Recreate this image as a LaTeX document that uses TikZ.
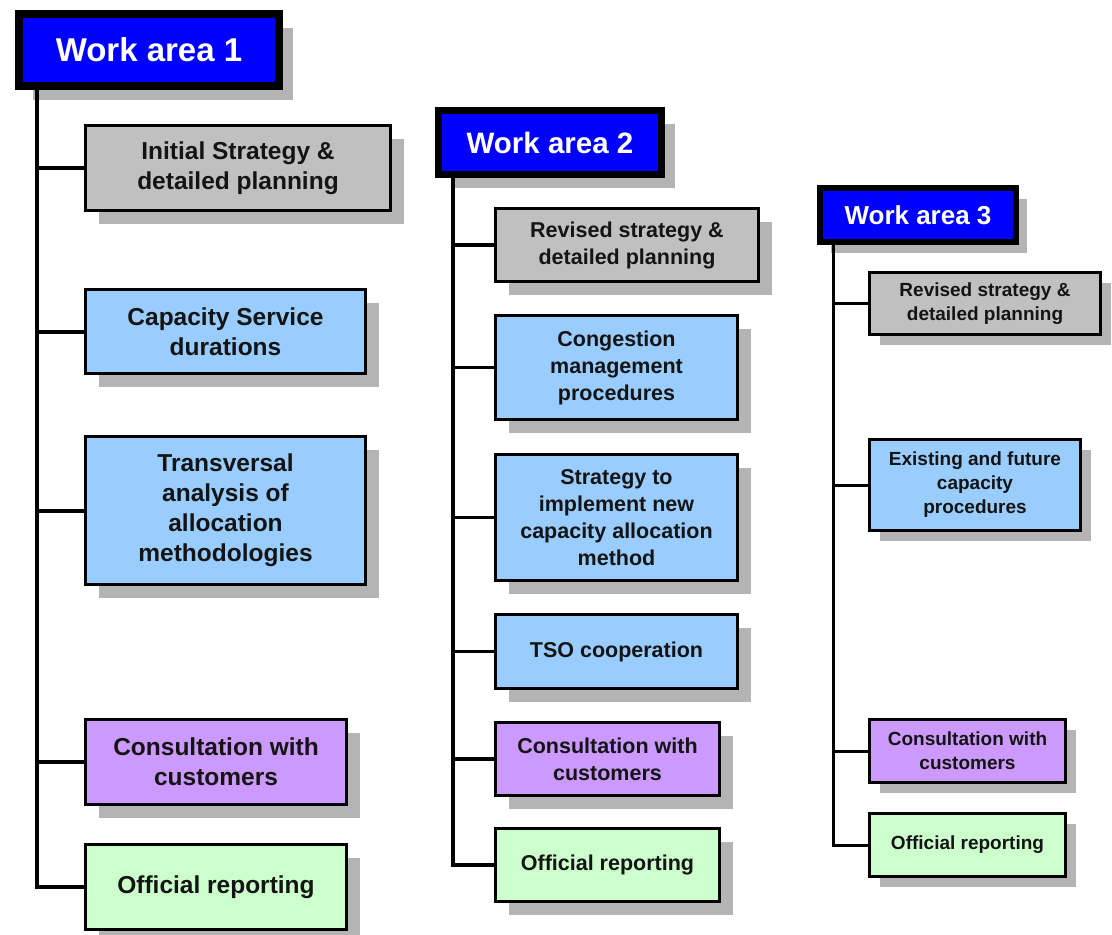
\documentclass[tikz,border=0pt]{standalone}
\usepackage{fontspec}
\setmainfont{Liberation Sans}
\usetikzlibrary{shadows}
\definecolor{wablue}{HTML}{0000FF}
\definecolor{bgray}{HTML}{C0C0C0}
\definecolor{bblue}{HTML}{99CCFF}
\definecolor{bpurple}{HTML}{CC99FF}
\definecolor{bgreen}{HTML}{CCFFCC}
\definecolor{shgray}{HTML}{B4B4B4}
\definecolor{txt}{HTML}{141414}
\tikzset{
  x=1pt, y=-1pt,
  shd/.style={drop shadow={shadow xshift=#1pt, shadow yshift=-#1pt, fill=shgray, opacity=1}},
  wabox/.style={draw=black, fill=wablue, text=white, font=\bfseries, inner sep=0pt},
  itembox/.style={draw=black, line width=3pt, text=txt, font=\bfseries, align=center, inner sep=0pt},
  f1/.style={font=\fontsize{24.5}{30}\selectfont\bfseries},
  f2/.style={font=\fontsize{21.5}{27}\selectfont\bfseries},
  f3/.style={font=\fontsize{19}{24}\selectfont\bfseries},
  conn1/.style={line width=4pt, line join=miter},
  conn2/.style={line width=3.2pt, line join=miter},
  conn3/.style={line width=3pt, line join=miter},
}
% name, x1, y1, x2, y2, lw, style, text
\newcommand\mybox[8]{%
  \node[#7, line width=#6pt, minimum width={(#4-#2-#6)*1pt}, minimum height={(#5-#3-#6)*1pt}]
    (#1) at ({(#2+#4)/2},{(#3+#5)/2}) {#8};}
\begin{document}
\begin{tikzpicture}
\useasboundingbox (0,0) rectangle (1112,935);
\fill[white] (0,0) rectangle (1112,935);

% ---------- Work area 1 ----------
\mybox{wa1}{15}{10}{283}{90}{8}{wabox,shd=14,font=\fontsize{33}{38}\selectfont\bfseries}{Work area 1}
\mybox{a1}{84}{124}{392}{212}{3}{itembox,shd=13,fill=bgray,f1}{Initial Strategy \&\\detailed planning}
\mybox{a2}{84}{288}{367}{375}{3}{itembox,shd=13,fill=bblue,f1}{Capacity Service\\durations}
\mybox{a3}{84}{435}{367}{586}{3}{itembox,shd=13,fill=bblue,f1}{Transversal\\analysis of\\allocation\\methodologies}
\mybox{a4}{84}{718}{348}{806}{3}{itembox,shd=13,fill=bpurple,f1}{Consultation with\\customers}
\mybox{a5}{84}{843}{348}{931}{3}{itembox,shd=13,fill=bgreen,f1}{Official reporting}
\coordinate (t1) at (37,0);
\foreach \n in {a1,a2,a3,a4,a5}
  \draw[conn1] (wa1.south -| t1) |- (\n.west);

% ---------- Work area 2 ----------
\mybox{wa2}{435}{107}{665}{178}{7}{wabox,shd=13,font=\fontsize{29.5}{34}\selectfont\bfseries}{Work area 2}
\mybox{b1}{494}{207}{760}{283}{3}{itembox,shd=13,fill=bgray,f2}{Revised strategy \&\\detailed planning}
\mybox{b2}{494}{314}{739}{421}{3}{itembox,shd=13,fill=bblue,f2}{Congestion\\management\\procedures}
\mybox{b3}{494}{453}{739}{582}{3}{itembox,shd=13,fill=bblue,f2}{Strategy to\\implement new\\capacity allocation\\method}
\mybox{b4}{494}{613}{739}{690}{3}{itembox,shd=13,fill=bblue,f2}{TSO cooperation}
\mybox{b5}{494}{721}{721}{797}{3}{itembox,shd=13,fill=bpurple,f2}{Consultation with\\customers}
\mybox{b6}{494}{827}{721}{903}{3}{itembox,shd=13,fill=bgreen,f2}{Official reporting}
\coordinate (t2) at (453,0);
\foreach \n in {b1,b2,b3,b4,b5,b6}
  \draw[conn2] (wa2.south -| t2) |- (\n.west);

% ---------- Work area 3 ----------
\mybox{wa3}{817}{185}{1019}{245}{6}{wabox,shd=11,font=\fontsize{26}{30}\selectfont\bfseries}{Work area 3}
\mybox{c1}{868}{271}{1102}{336}{3}{itembox,shd=10,fill=bgray,f3}{Revised strategy \&\\detailed planning}
\mybox{c2}{868}{438}{1082}{532}{3}{itembox,shd=10,fill=bblue,f3}{Existing and future\\capacity\\procedures}
\mybox{c3}{868}{718}{1067}{784}{3}{itembox,shd=10,fill=bpurple,f3}{Consultation with\\customers}
\mybox{c4}{868}{812}{1067}{878}{3}{itembox,shd=10,fill=bgreen,f3}{Official reporting}
\coordinate (t3) at (833,0);
\foreach \n in {c1,c2,c3,c4}
  \draw[conn3] (wa3.south -| t3) |- (\n.west);
\end{tikzpicture}
\end{document}
